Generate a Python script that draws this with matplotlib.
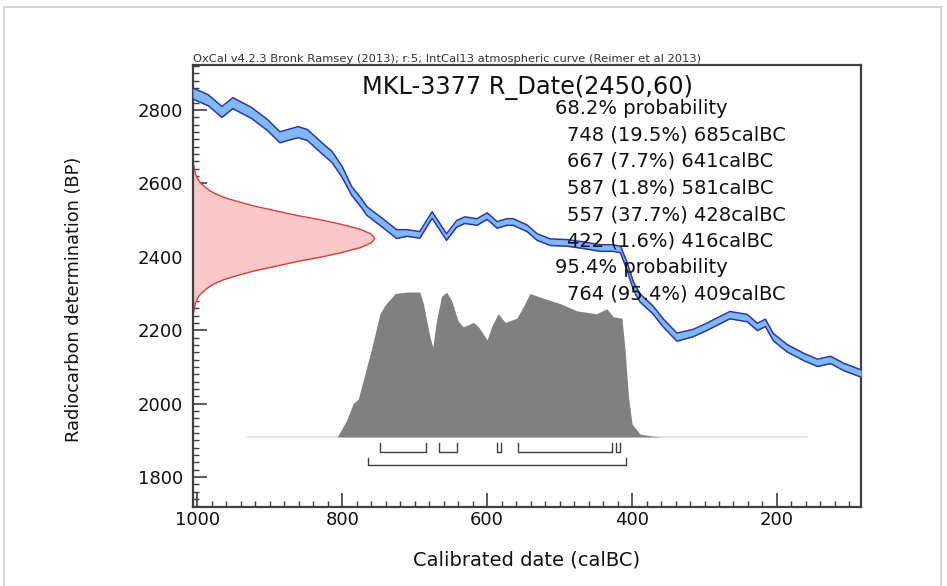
import matplotlib
matplotlib.use('Agg')
import matplotlib.pyplot as plt
from matplotlib.patches import Rectangle
from matplotlib.ticker import MultipleLocator
import numpy as np

# calibration curve (IntCal13): calBC, BP, half width
curve_cal = [1006, 985, 966, 951, 925, 903, 886, 861, 848, 828, 814, 800, 787, 773, 766, 744,
             725, 711, 693, 676, 656, 642, 631, 614, 600, 586, 573, 564, 545, 531, 513, 490,
             468, 444, 426, 416, 407, 398, 389, 371, 357, 338, 316, 297, 278, 265, 241, 227,
             216, 205, 186, 163, 144, 126, 108, 84]
curve_bp = [2845, 2827, 2795, 2819, 2792, 2759, 2726, 2740, 2732, 2696, 2672, 2631, 2580, 2545,
            2525, 2492, 2462, 2465, 2460, 2514, 2454, 2490, 2500, 2495, 2511, 2487, 2495, 2495,
            2478, 2454, 2440, 2438, 2432, 2424, 2424, 2420, 2375, 2320, 2288, 2255, 2220, 2181,
            2192, 2209, 2228, 2241, 2233, 2209, 2220, 2181, 2151, 2127, 2111, 2119, 2100, 2082]
curve_err = [15, 15, 15, 15, 15, 15, 15, 15, 15, 15, 15, 15,
             12, 12, 12, 12, 12,
             9, 9, 9, 9, 9, 9, 9, 9, 9, 9, 9, 9, 9, 9, 9, 9, 9, 9, 9,
             11, 11, 11, 11, 11, 11,
             10, 10, 10, 10, 10, 10, 10, 10, 10, 10, 10, 10, 10, 10]

# measured date R_Date(2450,60) drawn on the y axis (relative height)
rdate_bp = [2250, 2262, 2275, 2288, 2300, 2312, 2325, 2338, 2350, 2362, 2375, 2388, 2400,
            2412, 2425, 2438, 2450, 2462, 2475, 2488, 2500, 2512, 2525, 2538, 2550, 2562,
            2575, 2588, 2600, 2612, 2625, 2638, 2650]
rdate_prob = [0.004, 0.008, 0.014, 0.026, 0.044, 0.072, 0.11, 0.17, 0.25, 0.34, 0.46, 0.58,
              0.71, 0.82, 0.92, 0.98, 1.0, 0.98, 0.92, 0.82, 0.71, 0.58, 0.46, 0.34, 0.25,
              0.17, 0.11, 0.072, 0.044, 0.026, 0.014, 0.008, 0.004]

# calibrated distribution (relative height)
calib_cal = [807, 794, 785, 778, 769, 759, 748, 741, 727, 711, 693, 688, 679, 675, 670, 663,
             656, 649, 640, 633, 619, 612, 600, 594, 585, 575, 559, 550, 541, 518, 499, 476,
             449, 435, 426, 414, 410, 405, 400, 389, 371, 360]
calib_prob = [0, 0.115, 0.23, 0.26, 0.43, 0.62, 0.85, 0.91, 0.99, 1.0, 1.0, 0.92, 0.69, 0.62,
              0.80, 0.97, 1.0, 0.94, 0.80, 0.76, 0.79, 0.76, 0.67, 0.76, 0.85, 0.79, 0.82, 0.90,
              0.99, 0.95, 0.92, 0.87, 0.85, 0.885, 0.83, 0.82, 0.62, 0.28, 0.09, 0.02, 0.005, 0]

# ranges
ranges_68 = [(748, 685), (667, 641), (587, 581), (557, 428), (422, 416)]
pct_68 = [19.5, 7.7, 1.8, 37.7, 1.6]
ranges_95 = [(764, 409)]
pct_95 = [95.4]

title = 'MKL-3377 R_Date(2450,60)'
header = 'OxCal v4.2.3 Bronk Ramsey (2013); r:5; IntCal13 atmospheric curve (Reimer et al 2013)'

XMIN, XMAX = 1006, 84
YMIN, YMAX = 1718, 2923

fig = plt.figure(figsize=(9.47, 5.86), dpi=100)
ax = fig.add_axes([193 / 947, 1 - 507 / 586, 668 / 947, 442 / 586])

# frame around the whole picture
fig.patches.append(Rectangle((4 / 947, -0.02), 937 / 947, 1 - 7 / 586 + 0.02, fill=False,
                             edgecolor='#cccccc', lw=1.2, transform=fig.transFigure))

# calibrated distribution
base_bp = 1909
dist_h = 395
ax.plot([930, 159], [base_bp, base_bp], color='#e0e0e0', lw=1.2, zorder=1)
ax.fill_between(calib_cal, base_bp, base_bp + np.array(calib_prob) * dist_h,
                color='#808080', lw=0, zorder=2)

# range brackets
def brackets(ranges, y, h):
    for a, b in ranges:
        ax.plot([a, a, b, b], [y + h, y, y, y + h], color='#404040', lw=1, zorder=2)

brackets(ranges_68, 1868, 24)
brackets(ranges_95, 1833, 19)

# radiocarbon date on y axis
red_w = 251
red_x = XMIN - np.array(rdate_prob) * red_w
ax.fill_betweenx(rdate_bp, XMIN, red_x, color='#fac8c8', lw=0, zorder=2)
ax.plot(red_x, rdate_bp, color='#e03a3a', lw=1, zorder=2)

# calibration curve
cbp = np.array(curve_bp)
cerr = np.array(curve_err)
ax.fill_between(curve_cal, cbp - cerr, cbp + cerr, color='#80b8f2', lw=0, zorder=3)
ax.plot(curve_cal, cbp - cerr, color='#2a36b0', lw=1.1, zorder=3)
ax.plot(curve_cal, cbp + cerr, color='#2a36b0', lw=1.1, zorder=3)

# texts
ax.text(0.5, 0.948, title, transform=ax.transAxes, ha='center', va='center', fontsize=17.3,
        color='#111111', zorder=5)
ax.text(0.0, 1.003, header, transform=ax.transAxes, ha='left', va='bottom', fontsize=8.25,
        color='#333333')

lines = [('68.2% probability', 0)]
for (a, b), p in zip(ranges_68, pct_68):
    lines.append(('%d (%.1f%%) %dcalBC' % (a, p, b), 1))
lines.append(('95.4% probability', 0))
for (a, b), p in zip(ranges_95, pct_95):
    lines.append(('%d (%.1f%%) %dcalBC' % (a, p, b), 1))
for i, (s, indent) in enumerate(lines):
    x = 0.542 if indent == 0 else 0.560
    ax.text(x, 0.902 - i * 0.0601, s, transform=ax.transAxes, ha='left', va='center',
            fontsize=14, color='#111111', zorder=5)

ax.set_xlim(XMIN, XMAX)
ax.set_ylim(YMIN, YMAX)
ax.xaxis.set_major_locator(MultipleLocator(200))
ax.xaxis.set_minor_locator(MultipleLocator(20))
ax.yaxis.set_major_locator(MultipleLocator(200))
ax.yaxis.set_minor_locator(MultipleLocator(20))
ax.tick_params(axis='both', which='both', direction='in', colors='#404040', labelcolor='#111111')
ax.tick_params(axis='x', which='major', length=10, width=1.2, labelsize=13, pad=3)
ax.tick_params(axis='y', which='major', length=10, width=1.2, labelsize=13, pad=7)
ax.tick_params(axis='both', which='minor', length=4, width=1)
for sp in ax.spines.values():
    sp.set_color('#404040')
    sp.set_linewidth(1.6)

ax.set_xlabel('Calibrated date (calBC)', fontsize=14, color='#111111')
ax.set_ylabel('Radiocarbon determination (BP)', fontsize=12.8, color='#111111')
ax.xaxis.set_label_coords(0.5, -0.098)
ax.yaxis.set_label_coords(-0.165, 0.47)

fig.savefig('out.png', dpi=100)
